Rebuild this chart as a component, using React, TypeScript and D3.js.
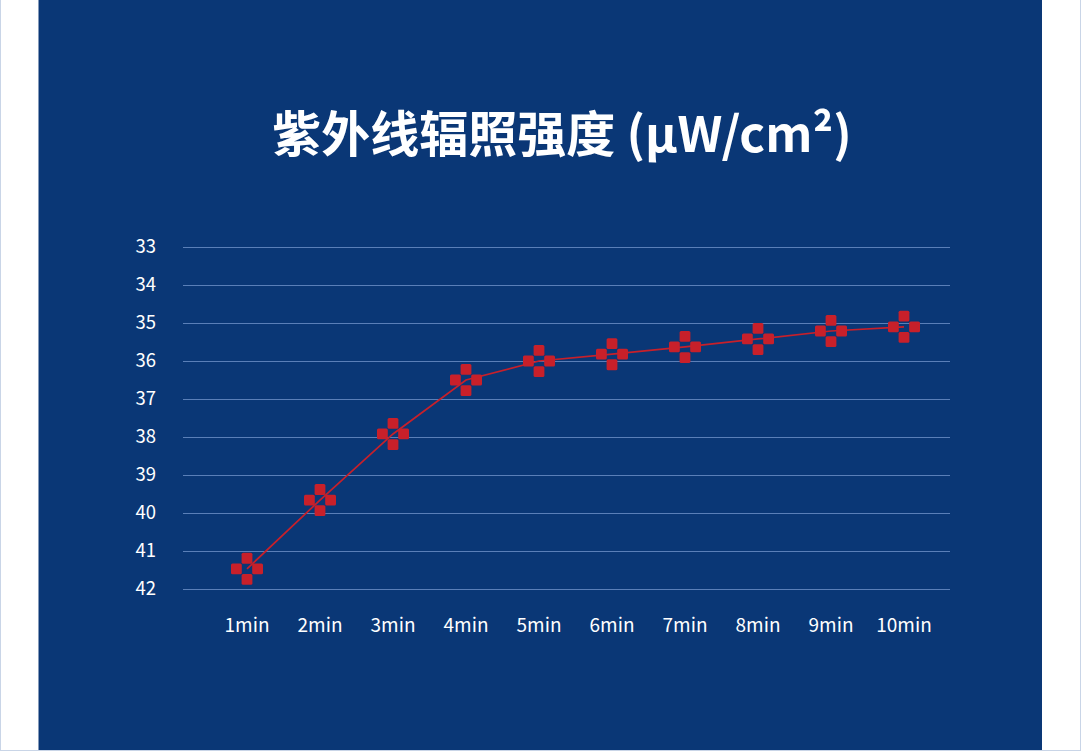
import React from "react";
import * as d3 from "d3";

const categories = ["1min", "2min", "3min", "4min", "5min", "6min", "7min", "8min", "9min", "10min"];
const values = [41.47, 39.66, 37.92, 36.5, 36.0, 35.82, 35.63, 35.42, 35.21, 35.1];
const yTicks = [33, 34, 35, 36, 37, 38, 39, 40, 41, 42];
const title = "紫外线辐照强度 (μW/cm²)";

const W = 1081;
const H = 751;
const BG = "#0a3776";
const RED = "#c8202a";

export default function App() {
  const x = d3.scalePoint<string>().domain(categories).range([247, 904]);
  const y = d3.scaleLinear().domain([33, 42]).range([247, 589]);
  const line = d3
    .line<number>()
    .x((_, i) => x(categories[i]) as number)
    .y((d) => y(d))
    .curve(d3.curveLinear);
  const font = "'Noto Sans CJK SC', 'Noto Sans', sans-serif";
  const s = 10.8;
  const off = 10.6;
  const offs = [
    [0, -off],
    [0, off],
    [-off, 0],
    [off, 0],
  ];
  return (
    <svg width={W} height={H} style={{ position: "absolute", left: 0, top: 0 }}>
      <rect x={0} y={0} width={W} height={H} fill="#ffffff" />
      <rect x={38.5} y={0} width={1042 - 38.5} height={750} fill={BG} />
      <line x1={0.5} x2={0.5} y1={0} y2={H} stroke="#c9d5e7" strokeWidth={1} />
      <line x1={1080.5} x2={1080.5} y1={0} y2={H} stroke="#c9d5e7" strokeWidth={1} />
      <line x1={0} x2={W} y1={750.5} y2={750.5} stroke="#c9d5e7" strokeWidth={1} />
      <text
        x={562}
        y={152}
        textAnchor="middle"
        fill="#ffffff"
        fontFamily={font}
        fontWeight={700}
        fontSize={49}
      >
        {title}
      </text>
      {yTicks.map((t) => (
        <g key={t}>
          <line x1={183} x2={950} y1={y(t) + 0.5} y2={y(t) + 0.5} stroke="#5a7fb8" strokeWidth={1} />
          <text
            x={156}
            y={y(t)}
            dy="0.35em"
            textAnchor="end"
            fill="#ffffff"
            fontFamily={font}
            fontSize={18.5}
          >
            {t}
          </text>
        </g>
      ))}
      {categories.map((c) => (
        <text
          key={c}
          x={x(c) as number}
          y={632}
          textAnchor="middle"
          fill="#ffffff"
          fontFamily={font}
          fontSize={19}
        >
          {c}
        </text>
      ))}
      <path d={line(values) || ""} fill="none" stroke={RED} strokeWidth={1.7} />
      {values.map((v, i) => {
        const cx = x(categories[i]) as number;
        const cy = y(v);
        return (
          <g key={i}>
            {offs.map(([dx, dy], j) => (
              <rect
                key={j}
                x={cx + dx - s / 2}
                y={cy + dy - s / 2}
                width={s}
                height={s}
                rx={1.5}
                fill={RED}
              />
            ))}
          </g>
        );
      })}
    </svg>
  );
}
